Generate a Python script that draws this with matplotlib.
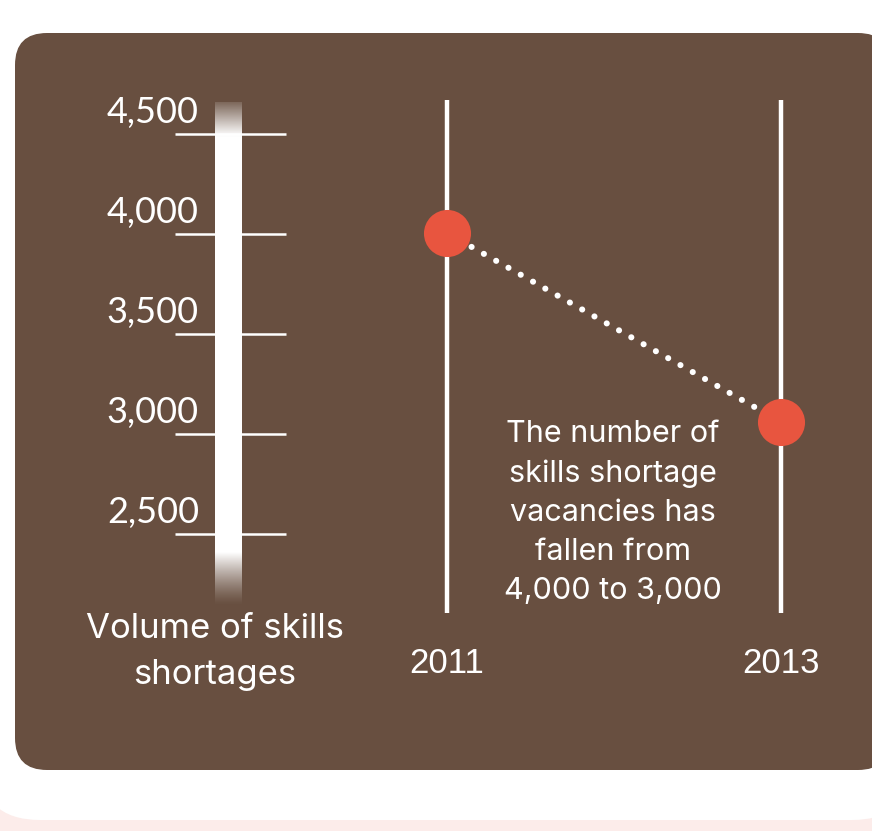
import numpy as np
import matplotlib
matplotlib.use("Agg")
import matplotlib.pyplot as plt
from matplotlib.patches import FancyBboxPatch, Rectangle

# scale on the left
scale_values = [4500, 4000, 3500, 3000, 2500]
scale_labels = ["4,500", "4,000", "3,500", "3,000", "2,500"]

# slope chart
years = [2011, 2013]
vacancies = [4000, 3000]

brown = "#684f40"
red = "#e8553f"
pink = "#fcecea"

W, H = 872, 831
fig = plt.figure(figsize=(W / 100, H / 100), dpi=100)
fig.patch.set_facecolor("white")

# canvas axes in pixel units (y grows downward)
bg = fig.add_axes([0, 0, 1, 1])
bg.set_xlim(0, W)
bg.set_ylim(H, 0)
bg.axis("off")

bg.add_patch(Rectangle((0, 800), W, 40, color=pink, zorder=0))
bg.add_patch(FancyBboxPatch((-20, -100), W + 60, 920, boxstyle="round,pad=0,rounding_size=60",
                            fc="white", ec="none", zorder=1))
bg.add_patch(FancyBboxPatch((15, 33), 875, 737, boxstyle="round,pad=0,rounding_size=32",
                            fc=brown, ec="none", zorder=2))

# scale axes: 500 units per 100 px, 4,500 sits at y=134
sc = fig.add_axes([0, 0, 1, 1], facecolor="none")
sc.set_xlim(0, W)
sc.set_ylim(4500 - (H - 134) * 5, 4500 + 134 * 5)
sc.axis("off")

# white bar with faded ends
top_v, bot_v = 4660, 2140
n = 400
yy = np.linspace(top_v, bot_v, n)
alpha = np.ones(n)
fade_top = 4500 - 5
alpha = np.where(yy > fade_top, 0.15 + 0.85 * (top_v - yy) / (top_v - fade_top), alpha)
fade_bot = 2405
alpha = np.where(yy < fade_bot, np.clip((yy - bot_v) / (fade_bot - bot_v), 0, 1) ** 1.3, alpha)
img = np.ones((n, 1, 4))
img[:, 0, 3] = alpha
sc.imshow(img, extent=(215, 242, bot_v, top_v), aspect="auto", interpolation="bilinear", zorder=3)

sc.hlines(scale_values, 175, 286, color="white", lw=1.8, zorder=4)
for v, lab in zip(scale_values, scale_labels):
    sc.text(199, v + 55, lab, ha="right", va="baseline", color="white",
            fontsize=26, family="Lato", zorder=5)

# multi-line baseline anchors the last line
sc.text(215, 2500 - 5 * (683 - 533), "Volume of skills\nshortages", ha="center", va="baseline",
        color="white", fontsize=25, family="Inter", linespacing=1.54, zorder=5)

# slope axes: 4,000 at y=233, 3,000 at y=422; 2011 at x=447, 2013 at x=781
px = 189 / 1000
sl = fig.add_axes([0, 0, 1, 1], facecolor="none")
x_per = (781 - 447) / 2
sl.set_xlim(2011 - 447 / x_per, 2013 + (W - 781) / x_per)
sl.set_ylim(4000 - (H - 233) / px, 4000 + 233 / px)
sl.axis("off")

line_top = 4000 + (233 - 100) / px
line_bot = 4000 - (613 - 233) / px
sl.vlines(years, line_bot, line_top, color="white", lw=3.2, zorder=3)
sl.plot(years, vacancies, ls=(0, (0.01, 2.3)), lw=4.4, color="white",
        solid_capstyle="round", dash_capstyle="round", zorder=4)
sl.scatter(years, vacancies, s=47 ** 2 * 0.52, color=red, zorder=5, linewidths=0)

for yr in years:
    sl.text(yr, 4000 - (673 - 233) / px, str(yr), ha="center", va="baseline",
            color="white", fontsize=25, family="Liberation Sans", zorder=5)

sl.text(2012 - (614 - 613) / x_per, 4000 - (420 - 233) / px,
        "The number of\nskills shortage\nvacancies has\nfallen from\n4,000 to 3,000",
        ha="center", va="top", color="white", fontsize=22, family="Inter",
        linespacing=1.5, zorder=5)

fig.savefig("out.png", dpi=100)
